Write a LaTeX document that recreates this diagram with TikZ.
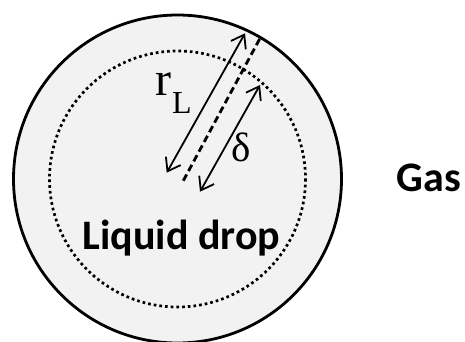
\documentclass[tikz,border=0pt]{standalone}
\usepackage{fontspec}
\setmainfont{Carlito}
\newfontfamily\timesfont{Liberation Serif}
\usepackage{tikz}
\usetikzlibrary{positioning,calc,arrows.meta}

\begin{document}
\begin{tikzpicture}[x=1pt,y=-1pt,
  drop/.style={line width=2.8pt,fill=black!5},
  film/.style={line width=2.7pt,dash pattern=on 2.7pt off 3pt},
  dim/.style={line width=1.8pt,{Straight Barb[length=12pt,width=17pt]}-{Straight Barb[length=12pt,width=17pt]}},
  axis/.style={line width=2.8pt,dash pattern=on 7pt off 4pt},
  sym/.style={inner sep=0pt,anchor=base west},
  lbl/.style={font=\bfseries\fontsize{42}{42}\selectfont,inner sep=0pt,anchor=base}]
  \useasboundingbox (0,0) rectangle (465,341);
  \coordinate (c) at (177.5,179);
  \draw[drop] (c) circle[radius=164];
  \draw[film] (c) circle[radius=128];
  % radius and film thickness
  \coordinate (r0) at (166.7,172.7);
  \coordinate (r1) at (245,33.3);
  \coordinate (a0) at (183.3,180.7);
  \coordinate (a1) at (260,38.3);
  \coordinate (d0) at (200,191.7);
  \coordinate (d1) at (260,85);
  \draw[axis] (a0)--(a1);
  \draw[dim] (r0)--(r1);
  \draw[dim] (d0)--(d1);
  \node[sym,font=\timesfont\fontsize{48}{48}\selectfont] (r) at (155.5,95) {r};
  \node[sym,font=\timesfont\fontsize{32}{32}\selectfont] (rsub) at (172,113) {L};
  \node[sym,font=\timesfont\fontsize{41}{41}\selectfont] (delta) at (231,161) {δ};
  \node[lbl] (liquid) at (181.5,249) {Liquid drop};
  \node[lbl] (gas) at (429,191.5) {Gas};
\end{tikzpicture}
\end{document}
